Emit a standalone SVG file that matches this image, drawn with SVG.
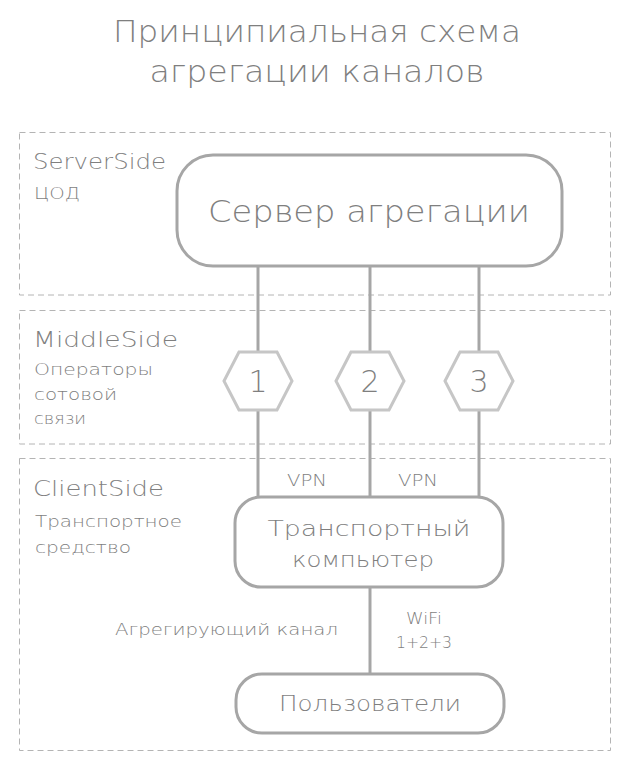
<svg xmlns="http://www.w3.org/2000/svg" width="634" height="774" viewBox="0 0 634 774">
<style>
text{font-family:"DejaVu Sans","Liberation Sans",sans-serif;font-weight:300;fill:#7f7f7f}
.zone{fill:none;stroke:#b4b4b4;stroke-width:1;stroke-dasharray:6 4}
.box{fill:#fff;stroke:#a6a6a6;stroke-width:3}
.hex{fill:#fff;stroke:#c6c6c6;stroke-width:3}
.line{stroke:#a6a6a6;stroke-width:3;fill:none}
.t{font-size:30px;text-anchor:middle}
.h{font-size:22px}
.s{font-size:16px}
.m{text-anchor:middle}
</style>
<rect width="634" height="774" fill="#fff"/>
<g id="title">
<text class="t" x="317" y="42" textLength="408" lengthAdjust="spacingAndGlyphs">Принципиальная схема</text>
<text class="t" x="317" y="82" textLength="335" lengthAdjust="spacingAndGlyphs">агрегации каналов</text>
</g>
<g id="zones">
<rect class="zone" x="19.5" y="132.5" width="591" height="162.5"/>
<rect class="zone" x="19.5" y="310.5" width="591" height="133.5"/>
<rect class="zone" x="19.5" y="458.5" width="591" height="292"/>
<text class="h" x="33" y="169" textLength="133" lengthAdjust="spacingAndGlyphs">ServerSide</text>
<text class="s" x="34" y="199" textLength="46" lengthAdjust="spacingAndGlyphs">ЦОД</text>
<text class="h" x="33" y="347" textLength="145" lengthAdjust="spacingAndGlyphs">MiddleSide</text>
<text class="s" x="34" y="375" textLength="119" lengthAdjust="spacingAndGlyphs">Операторы</text>
<text class="s" x="34" y="400" textLength="83" lengthAdjust="spacingAndGlyphs">сотовой</text>
<text class="s" x="34" y="424" textLength="52" lengthAdjust="spacingAndGlyphs">связи</text>
<text class="h" x="33" y="496" textLength="131" lengthAdjust="spacingAndGlyphs">ClientSide</text>
<text class="s" x="35" y="527" textLength="147" lengthAdjust="spacingAndGlyphs">Транспортное</text>
<text class="s" x="35" y="553" textLength="96" lengthAdjust="spacingAndGlyphs">средство</text>
</g>
<g id="connectors">
<line class="line" x1="258" y1="266" x2="258" y2="497"/>
<line class="line" x1="370" y1="266" x2="370" y2="497"/>
<line class="line" x1="479" y1="266" x2="479" y2="497"/>
<line class="line" x1="370" y1="587" x2="370" y2="674"/>
<text class="s m" x="307" y="486" textLength="40" lengthAdjust="spacingAndGlyphs">VPN</text>
<text class="s m" x="418" y="486" textLength="40" lengthAdjust="spacingAndGlyphs">VPN</text>
<text class="s m" x="424" y="624" textLength="36" lengthAdjust="spacingAndGlyphs">WiFi</text>
<text class="s m" x="424" y="648" textLength="56" lengthAdjust="spacingAndGlyphs">1+2+3</text>
<text class="s" x="115" y="635" textLength="223" lengthAdjust="spacingAndGlyphs">Агрегирующий канал</text>
</g>
<g id="server">
<rect class="box" x="177" y="155" width="385" height="111" rx="36"/>
<text class="t" x="369" y="222" textLength="322" lengthAdjust="spacingAndGlyphs">Сервер агрегации</text>
</g>
<g id="op1">
<polygon class="hex" points="224,381 239,352 277,352 292,381 277,410 239,410"/>
<text class="t m" x="258" y="392">1</text>
</g>
<g id="op2">
<polygon class="hex" points="336,381 351,352 389,352 404,381 389,410 351,410"/>
<text class="t m" x="370" y="392">2</text>
</g>
<g id="op3">
<polygon class="hex" points="445,381 460,352 498,352 513,381 498,410 460,410"/>
<text class="t m" x="479" y="392">3</text>
</g>
<g id="computer">
<rect class="box" x="235" y="497" width="268" height="90" rx="26"/>
<text class="h m" x="369" y="536" textLength="203" lengthAdjust="spacingAndGlyphs">Транспортный</text>
<text class="h m" x="363" y="567" textLength="142" lengthAdjust="spacingAndGlyphs">компьютер</text>
</g>
<g id="users">
<rect class="box" x="236" y="674" width="268" height="59" rx="26"/>
<text class="h m" x="370" y="711" textLength="182" lengthAdjust="spacingAndGlyphs">Пользователи</text>
</g>
</svg>
